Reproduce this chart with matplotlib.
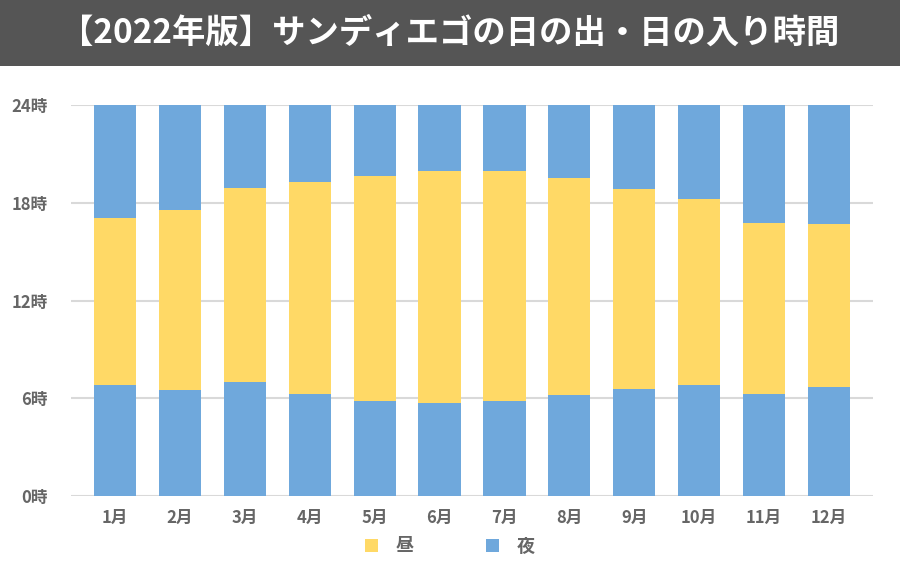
import matplotlib.pyplot as plt
from matplotlib.patches import Rectangle
import numpy as np

plt.rcParams['font.family'] = ['Noto Sans CJK JP', 'DejaVu Sans']

months = ["1月", "2月", "3月", "4月", "5月", "6月", "7月", "8月", "9月", "10月", "11月", "12月"]
# sunrise / sunset in hours
sunrise = [6.83, 6.49, 6.98, 6.28, 5.83, 5.69, 5.83, 6.20, 6.57, 6.83, 6.26, 6.69]
sunset = [17.07, 17.56, 18.93, 19.28, 19.64, 19.93, 19.93, 19.50, 18.85, 18.21, 16.78, 16.70]
yticks = [0, 6, 12, 18, 24]
ylabels = ["0時", "6時", "12時", "18時", "24時"]

blue = "#6fa8dc"
yellow = "#ffd966"
grey = "#666666"

sunrise = np.array(sunrise)
sunset = np.array(sunset)
day = sunset - sunrise
night2 = 24 - sunset
x = np.arange(len(months))

fig = plt.figure(figsize=(9, 5.78), dpi=100)
fig.patches.append(Rectangle((0, 1 - 66 / 578), 1, 66 / 578, transform=fig.transFigure,
                             facecolor="#555555", edgecolor="none", zorder=0))
fig.text(0.5, 1 - 33 / 578, "【2022年版】サンディエゴの日の出・日の入り時間", color="white",
         fontsize=24, fontweight="bold", ha="center", va="center")

ax = fig.add_axes([71 / 900, 1 - 496 / 578, 802 / 900, 391 / 578])
w = 0.65
ax.bar(x, sunrise, w, color=blue, zorder=3)
ax.bar(x, day, w, bottom=sunrise, color=yellow, zorder=3, label="昼")
ax.bar(x, night2, w, bottom=sunset, color=blue, zorder=3, label="夜")

ax.set_xlim(-0.68, 11.68)
ax.set_ylim(0, 24)
ax.set_yticks(yticks)
ax.set_yticklabels(ylabels)
ax.set_xticks(x)
ax.set_xticklabels(months)
ax.grid(axis="y", color="#d9d9d9", lw=1.5, zorder=0)
for s in ax.spines.values():
    s.set_visible(False)
ax.tick_params(length=0, labelsize=12, labelcolor=grey)
ax.tick_params(axis="y", pad=17)
ax.tick_params(axis="x", pad=9)
for t in ax.get_xticklabels() + ax.get_yticklabels():
    t.set_fontweight("bold")

leg = fig.legend(loc="center", bbox_to_anchor=(0.5, 1 - 546 / 578), ncol=2, frameon=False,
                 handlelength=0.7, handleheight=0.7, columnspacing=4.0, handletextpad=1.0,
                 prop={"size": 13, "weight": "bold"})
for t in leg.get_texts():
    t.set_color(grey)

fig.savefig("out.png", dpi=100)
